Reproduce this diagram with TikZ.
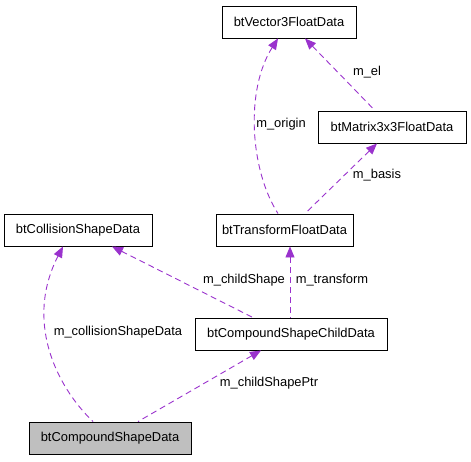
\documentclass[tikz,border=0pt]{standalone}
\usepackage{fontspec}
\setmainfont{Liberation Sans}
\usetikzlibrary{arrows.meta}
\definecolor{edgepurple}{HTML}{9A32CD}
\definecolor{nodegray}{HTML}{BFBFBF}

\begin{document}
\begin{tikzpicture}[x=1pt,y=-1pt,line cap=butt,line join=miter,font=\fontsize{12.9}{14}\selectfont,
  classbox/.style={draw,line width=0.9pt,minimum height=32pt,inner sep=0pt},
  member/.style={draw=edgepurple,line width=0.9pt,dash pattern=on 6pt off 4pt,
    <-,>={Triangle[length=11pt,width=9pt,fill=edgepurple]}},
  memberlabel/.style={inner sep=0pt}]
  \useasboundingbox (0,0) rectangle (471,461);
  \node[classbox,minimum width=134pt] (vec) at (289,22) {btVector3FloatData};
  \node[classbox,minimum width=148pt] (mat) at (392,127) {btMatrix3x3FloatData};
  \node[classbox,minimum width=137pt] (trans) at (284.5,230) {btTransformFloatData};
  \node[classbox,minimum width=148pt] (coll) at (78,230) {btCollisionShapeData};
  \node[classbox,minimum width=192pt] (child) at (291,334) {btCompoundShapeChildData};
  \node[classbox,minimum width=162pt,fill=nodegray] (comp) at (110,438) {btCompoundShapeData};
  \draw[member] ([xshift=16pt]vec.south) -- ([xshift=-17pt]mat.north);
  \draw[member] ([xshift=-11pt]vec.south) .. controls (245,90) and (250,170) .. ([xshift=-6.5pt]trans.north);
  \draw[member] ([xshift=-15pt]mat.south) -- ([xshift=20.5pt]trans.north);
  \draw[member] ([xshift=34pt]coll.south) -- ([xshift=-38pt]child.north);
  \draw[member] ([xshift=5.5pt]trans.south) -- ([xshift=-1pt]child.north);
  \draw[member] ([xshift=-15pt]coll.south) .. controls (25,320) and (55,385) .. ([xshift=-17pt]comp.north);
  \draw[member] ([xshift=-30pt]child.south) -- ([xshift=28pt]comp.north);
  \node[memberlabel] (lel) at (367,72) {m\_el};
  \node[memberlabel] (lorigin) at (281,124) {m\_origin};
  \node[memberlabel] (lbasis) at (377,175) {m\_basis};
  \node[memberlabel] (lchild) at (244,280) {m\_childShape};
  \node[memberlabel] (ltrans) at (332,280) {m\_transform};
  \node[memberlabel] (lcoll) at (118,332) {m\_collisionShapeData};
  \node[memberlabel] (lptr) at (269,383) {m\_childShapePtr};
\end{tikzpicture}
\end{document}
